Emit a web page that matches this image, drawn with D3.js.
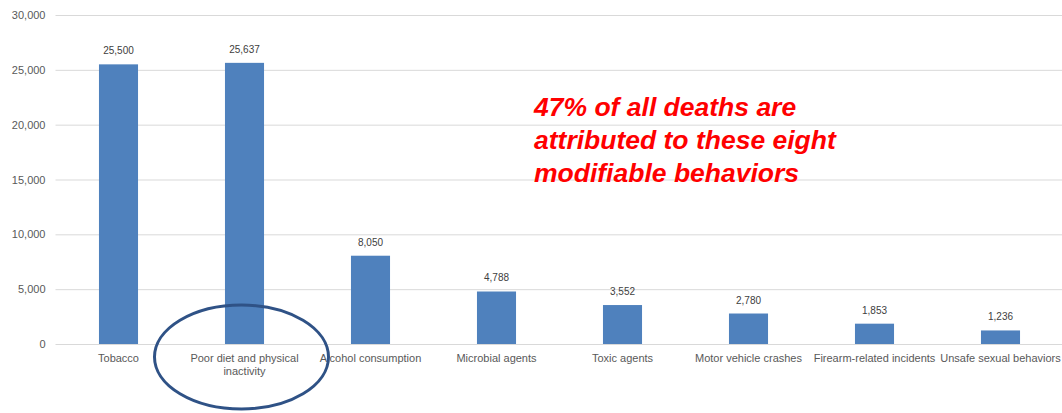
<!DOCTYPE html>
<html>
<head>
<meta charset="utf-8">
<script src="https://cdn.jsdelivr.net/npm/d3@7"></script>
<style>
  html, body { margin: 0; padding: 0; background: #fff; }
  svg { display: block; }
</style>
</head>
<body>
<svg id="chart" width="1062" height="413"></svg>
<script>
// Deaths attributed to modifiable behaviors
const categories = [
  "Tobacco",
  "Poor diet and physical inactivity",
  "Alcohol consumption",
  "Microbial agents",
  "Toxic agents",
  "Motor vehicle crashes",
  "Firearm-related incidents",
  "Unsafe sexual behaviors"
];
const deaths = [25500, 25637, 8050, 4788, 3552, 2780, 1853, 1236];
const yTicks = [0, 5000, 10000, 15000, 20000, 25000, 30000];
const noteLines = [
  "47% of all deaths are",
  "attributed to these eight",
  "modifiable behaviors"
];
const highlighted = "Poor diet and physical inactivity";

const svg = d3.select("#chart");
const margin = { top: 15, left: 55.5, right: -1.5, bottom: 69 };
const W = 1062, H = 413;

const x = d3.scaleBand()
  .domain(categories)
  .range([margin.left, W - margin.right])
  .paddingInner(0.69)
  .paddingOuter(0.345);

const y = d3.scaleLinear()
  .domain([0, 30000])
  .range([H - margin.bottom, margin.top]);

const fmt = d3.format(",");

// gridlines and tick labels
const yAxis = d3.axisLeft(y)
  .tickValues(yTicks)
  .tickSize(-(W - margin.left))
  .tickPadding(10)
  .tickFormat(fmt);

const gy = svg.append("g")
  .attr("transform", `translate(${margin.left},0)`)
  .call(yAxis);
gy.select(".domain").remove();
gy.selectAll(".tick line").attr("stroke", "#d9d9d9").attr("stroke-width", 1);
gy.selectAll(".tick text")
  .attr("fill", "#595959")
  .attr("font-family", "Liberation Sans, Arial, sans-serif")
  .attr("font-size", 11);

// bars
svg.append("g").selectAll("rect")
  .data(categories)
  .join("rect")
  .attr("x", d => x(d))
  .attr("width", x.bandwidth())
  .attr("y", (d, i) => y(deaths[i]))
  .attr("height", (d, i) => y(0) - y(deaths[i]))
  .attr("fill", "#4f81bd");

// value labels
svg.append("g").selectAll("text")
  .data(categories)
  .join("text")
  .attr("x", d => x(d) + x.bandwidth() / 2)
  .attr("y", (d, i) => y(deaths[i]) - 10)
  .attr("text-anchor", "middle")
  .attr("fill", "#404040")
  .attr("font-family", "Liberation Sans, Arial, sans-serif")
  .attr("font-size", 10)
  .text((d, i) => fmt(deaths[i]));

// category axis
const xAxis = d3.axisBottom(x).tickSize(0).tickPadding(10);
const gx = svg.append("g")
  .attr("transform", `translate(0,${y(0)})`)
  .call(xAxis);
gx.select(".domain").remove();
gx.selectAll(".tick text")
  .attr("fill", "#595959")
  .attr("font-family", "Liberation Sans, Arial, sans-serif")
  .attr("font-size", 11)
  .each(function(d) {
    if (d === highlighted) {
      const t = d3.select(this);
      t.text(null);
      t.append("tspan").attr("x", 0).attr("dy", "0.71em").text("Poor diet and physical");
      t.append("tspan").attr("x", 0).attr("dy", "1.2em").text("inactivity");
      t.attr("dy", null);
    }
  });

// circled category
const cx = x(highlighted) + x.bandwidth() / 2 - 3;
svg.append("ellipse")
  .attr("cx", cx)
  .attr("cy", y(0) + 13)
  .attr("rx", 87)
  .attr("ry", 52)
  .attr("fill", "none")
  .attr("stroke", "#2f5286")
  .attr("stroke-width", 3);

// annotation
svg.append("text")
  .attr("x", 534)
  .attr("y", 116)
  .attr("fill", "#ff0000")
  .attr("font-family", "Liberation Sans, Arial, sans-serif")
  .attr("font-size", 26.5)
  .attr("font-weight", "bold")
  .attr("font-style", "italic")
  .selectAll("tspan")
  .data(noteLines)
  .join("tspan")
  .attr("x", 534)
  .attr("dy", (d, i) => i === 0 ? 0 : 33)
  .text(d => d);
</script>
</body>
</html>
